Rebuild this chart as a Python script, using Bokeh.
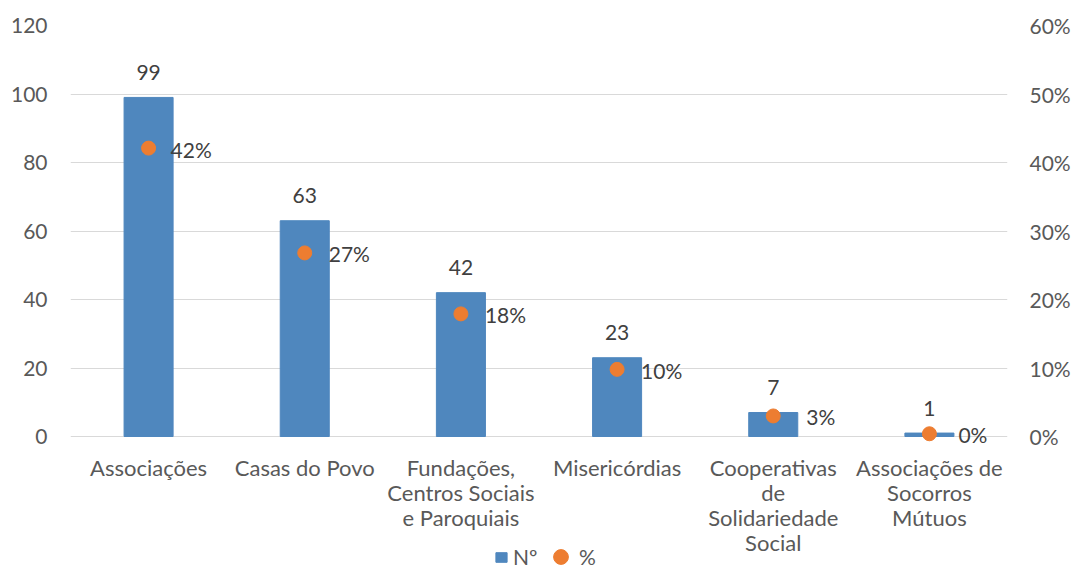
from bokeh.plotting import figure
from bokeh.models import (ColumnDataSource, Range1d, LinearAxis, LabelSet, Legend, LegendItem,
                          FactorRange, NumeralTickFormatter, FixedTicker)
from bokeh.core.properties import value
from bokeh.embed import file_html
from bokeh.resources import INLINE

categories = ["Associações", "Casas do Povo", "Fundações, Centros Sociais e Paroquiais",
              "Misericórdias", "Cooperativas de Solidariedade Social",
              "Associações de Socorros Mútuos"]
category_labels = ["Associações", "Casas do Povo", "Fundações,\nCentros Sociais\ne Paroquiais",
                   "Misericórdias", "Cooperativas\nde\nSolidariedade\nSocial",
                   "Associações de\nSocorros\nMútuos"]
counts = [99, 63, 42, 23, 7, 1]
pcts = [0.421, 0.268, 0.179, 0.098, 0.030, 0.004]
left_ticks = [0, 20, 40, 60, 80, 100, 120]
right_ticks = [0, 0.1, 0.2, 0.3, 0.4, 0.5, 0.6]

# style: horizontal gap (px) between each point and its percent label
pct_label_dx = [22, 24, 24, 24, 33, 29]

FONT = "Lato"
BLUE = "#4F87BE"
ORANGE = "#ED7D31"
AXIS_TXT = "#595959"
LBL_TXT = "#404040"
FS = "21px"
CAT_FS = "22px"

W, H = 1077, 565
TOP, ZERO_Y, LEFT, RIGHT = 25, 436, 70, 70
# extend the plotting frame below the zero line so category labels live inside it
ext = (H - ZERO_Y) / (ZERO_Y - TOP)
ymax_l, ymax_r = left_ticks[-1], right_ticks[-1]

src = ColumnDataSource(dict(
    cat=categories, n=counts, pct=pcts,
    n_lbl=[str(v) for v in counts],
    p_lbl=[f"{round(v * 100)}%" for v in pcts],
    dx=pct_label_dx,
))

cat_x, cat_txt, cat_off = [], [], []
for c, lbl in zip(categories, category_labels):
    for i, line in enumerate(lbl.split("\n")):
        cat_x.append(c)
        cat_txt.append(line)
        cat_off.append(-(31 + 25 * i))
cat_src = ColumnDataSource(dict(x=cat_x, y=[0] * len(cat_x), t=cat_txt, off=cat_off))

p = figure(x_range=FactorRange(factors=categories),
           y_range=Range1d(-ymax_l * ext, ymax_l),
           width=W, height=H, output_backend="svg", toolbar_location=None,
           x_axis_location=None,
           min_border_left=LEFT, min_border_right=RIGHT, min_border_top=TOP, min_border_bottom=0)
p.extra_y_ranges = {"pct": Range1d(-ymax_r * ext, ymax_r)}
p.outline_line_color = None
p.background_fill_color = "white"
p.border_fill_color = "white"

bars = p.vbar(x="cat", top="n", width=0.314, source=src, fill_color=BLUE, line_color=BLUE)
pts = p.scatter(x="cat", y="pct", y_range_name="pct", size=14, source=src,
                fill_color=ORANGE, line_color=ORANGE)

p.yaxis.ticker = FixedTicker(ticks=left_ticks)
p.yaxis.axis_line_color = None
p.yaxis.major_tick_line_color = None
p.yaxis.minor_tick_line_color = None
p.yaxis.major_tick_out = 0
p.yaxis.major_label_text_font = FONT
p.yaxis.major_label_text_font_size = FS
p.yaxis.major_label_text_color = AXIS_TXT
p.yaxis.major_label_standoff = 23

ra = LinearAxis(y_range_name="pct", ticker=FixedTicker(ticks=right_ticks),
                formatter=NumeralTickFormatter(format="0%"))
ra.axis_line_color = None
ra.major_tick_line_color = None
ra.minor_tick_line_color = None
ra.major_tick_out = 0
ra.major_label_text_font = FONT
ra.major_label_text_font_size = FS
ra.major_label_text_color = AXIS_TXT
ra.major_label_standoff = 22
p.add_layout(ra, "right")

p.xgrid.grid_line_color = None
p.ygrid.ticker = FixedTicker(ticks=left_ticks)
p.ygrid.grid_line_color = "#D9D9D9"
p.ygrid.grid_line_width = 1

# category labels
cl = LabelSet(x="x", y="y", text="t", source=cat_src, y_offset="off",
              text_align="center", text_baseline="middle", text_font=value(FONT),
              text_font_size=CAT_FS, text_color=AXIS_TXT)
p.add_layout(cl)

# data labels
nl = LabelSet(x="cat", y="n", text="n_lbl", source=src, y_offset=25,
              text_align="center", text_baseline="middle", text_font=value(FONT),
              text_font_size=FS, text_color=LBL_TXT)
pl = LabelSet(x="cat", y="pct", text="p_lbl", source=src, y_range_name="pct", x_offset="dx",
              y_offset=-1,
              text_align="left", text_baseline="middle", text_font=value(FONT),
              text_font_size=FS, text_color=LBL_TXT)
p.add_layout(nl)
p.add_layout(pl)

leg_a = Legend(items=[LegendItem(label="Nº", renderers=[bars])],
               location=(424, -4), orientation="horizontal",
               label_text_font=FONT, label_text_font_size=FS, label_text_color=AXIS_TXT,
               glyph_width=14, glyph_height=12, label_height=12, padding=0, margin=0,
               border_line_color=None, background_fill_alpha=0, label_standoff=5)
leg_b = Legend(items=[LegendItem(label="%", renderers=[pts])],
               location=(472, -10), orientation="horizontal",
               label_text_font=FONT, label_text_font_size=FS, label_text_color=AXIS_TXT,
               glyph_width=37, glyph_height=37, label_height=12, padding=0, margin=0,
               border_line_color=None, background_fill_alpha=0, label_standoff=-6)
p.add_layout(leg_a)
p.add_layout(leg_b)

open("out.html", "w").write(file_html(p, INLINE))
